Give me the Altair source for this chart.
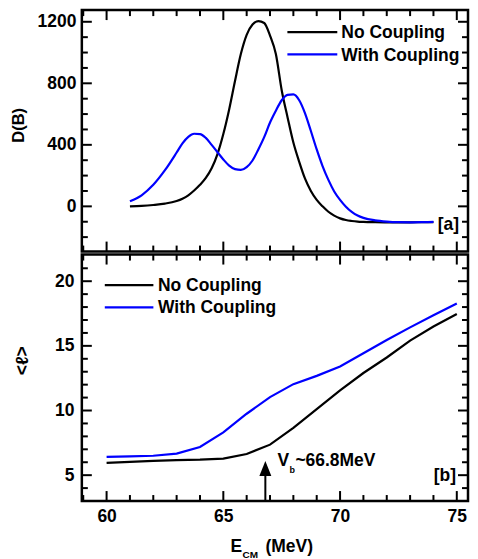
import altair as alt
import pandas as pd

FONT = "Liberation Sans"
SERIES = ["No Coupling", "With Coupling"]
COLORS = ["#000000", "#0000ff"]

# ---- panel [a]: D(B) ----
E_A = [61.0, 61.5, 62.0, 62.5, 63.0, 63.25, 63.5, 63.75, 64.0, 64.25, 64.5, 64.75,
       65.0, 65.25, 65.5, 65.75, 66.0, 66.25, 66.5, 66.75, 67.0, 67.25, 67.5, 67.75,
       68.0, 68.25, 68.5, 68.75, 69.0, 69.25, 69.5, 69.75, 70.0, 70.25, 70.5, 70.75,
       71.0, 71.5, 72.0, 72.5, 73.0, 73.5, 74.0]
DB_NO = [0, 3, 9, 18, 35, 50, 72, 103, 140, 185, 248, 340,
         470, 630, 815, 990, 1115, 1182, 1204, 1192, 1110, 990, 755, 580,
         415, 290, 180, 100, 42, 0, -35, -60, -78, -89, -95, -99,
         -101, -103, -104, -104, -104, -103, -102]
DB_WITH = [33, 72, 140, 235, 350, 410, 452, 472, 470, 445, 400, 352,
           305, 265, 242, 237, 255, 298, 370, 450, 545, 622, 690, 725,
           728, 690, 605, 490, 370, 262, 172, 97, 42, -2, -36, -60,
           -75, -91, -99, -103, -104, -103, -101]

# ---- panel [b]: <l> ----
E_B = [60, 61, 62, 63, 64, 65, 66, 67, 68, 69, 70, 71, 72, 73, 74, 75]
L_NO = [5.95, 6.03, 6.1, 6.16, 6.2, 6.28, 6.64, 7.36, 8.65, 10.1, 11.55, 12.9,
        14.1, 15.4, 16.5, 17.46]
L_WITH = [6.41, 6.46, 6.5, 6.67, 7.18, 8.31, 9.75, 11.04, 12.04, 12.68, 13.4,
          14.43, 15.45, 16.43, 17.36, 18.28]

VB = 66.8
VB_TEXT = ["V", "b", "~66.8MeV"]
PANEL_TAGS = ["[a]", "[b]"]
XTITLE = ["E", "CM", "(MeV)"]

X_DOMAIN = [58.94, 75.48]
X_MAJOR = [60, 65, 70, 75]
X_MINOR = [59, 61, 62, 63, 64, 66, 67, 68, 69, 71, 72, 73, 74]
YA_DOMAIN = [-294, 1276]
YA_MAJOR = [0, 400, 800, 1200]
YA_MINOR = [-200, -100, 100, 200, 300, 500, 600, 700, 900, 1000, 1100]
YB_DOMAIN = [3.0, 22.06]
YB_MAJOR = [5, 10, 15, 20]
YB_MINOR = [4, 6, 7, 8, 9, 11, 12, 13, 14, 16, 17, 18, 19, 21]

W = 387
HA = 242
HB = 247
FS = 17.5

xs = alt.Scale(domain=X_DOMAIN, nice=False, zero=False)
ysa = alt.Scale(domain=YA_DOMAIN, nice=False, zero=False)
ysb = alt.Scale(domain=YB_DOMAIN, nice=False, zero=False)
cscale = alt.Scale(domain=SERIES, range=COLORS)

AX_XA = None
AX_YA = alt.Axis(values=YA_MAJOR, format="d", ticks=False, domain=False, grid=False,
                 labelPadding=6, title="D(B)", titleAngle=-90, titleX=-63, titleY=115,
                 titleAlign="center", titleBaseline="middle", titleFontSize=16.5)
AX_XB = alt.Axis(values=X_MAJOR, format="d", ticks=False, domain=False, grid=False,
                 labelPadding=7, title=None)
AX_YB = alt.Axis(values=YB_MAJOR, format="d", ticks=False, domain=False, grid=False,
                 labelPadding=8, title="<ℓ>", titleAngle=-90, titleX=-59, titleY=106,
                 titleAlign="center", titleBaseline="middle")


def tick_layers(xvals, yvals, length, ys, H, axx, axy):
    out = []
    dx = pd.DataFrame({"t": xvals})
    dy = pd.DataFrame({"t": yvals})
    bx = alt.Chart(dx).mark_rule(color="black", strokeWidth=2)
    X = alt.X("t:Q", scale=xs, axis=axx)
    out.append(bx.encode(x=X, y=alt.value(0), y2=alt.value(length)))
    out.append(bx.encode(x=X, y=alt.value(H), y2=alt.value(H - length)))
    by = alt.Chart(dy).mark_rule(color="black", strokeWidth=2)
    Y = alt.Y("t:Q", scale=ys, axis=axy)
    out.append(by.encode(y=Y, x=alt.value(0), x2=alt.value(length)))
    out.append(by.encode(y=Y, x=alt.value(W), x2=alt.value(W - length)))
    return out


def legend_layers(x0, x1, yline, xtext, ytext):
    out = []
    for i, name in enumerate(SERIES):
        d = pd.DataFrame({"s": [name]})
        out.append(alt.Chart(d).mark_rule(color=COLORS[i], strokeWidth=2.2).encode(
            x=alt.value(x0), x2=alt.value(x1), y=alt.value(yline[i])))
        out.append(alt.Chart(d).mark_text(align="left", baseline="alphabetic", font=FONT,
                                          fontSize=FS, fontWeight="bold", color="black").encode(
            x=alt.value(xtext), y=alt.value(ytext[i]), text="s:N"))
    return out


def text_layer(txt, x, y, size=FS, align="left"):
    d = pd.DataFrame({"label": [txt]})
    return alt.Chart(d).mark_text(align=align, baseline="alphabetic", font=FONT,
                                  fontSize=size, fontWeight="bold", color="black").encode(
        x=alt.value(x), y=alt.value(y), text="label:N")


# ---------- top panel ----------
df_a = pd.DataFrame({
    "E": E_A + E_A,
    "v": DB_NO + DB_WITH,
    "s": [SERIES[0]] * len(E_A) + [SERIES[1]] * len(E_A),
})
lines_a = alt.Chart(df_a).mark_line(strokeWidth=2.2, interpolate="monotone").encode(
    x=alt.X("E:Q", scale=xs, axis=AX_XA),
    y=alt.Y("v:Q", scale=ysa, axis=AX_YA),
    color=alt.Color("s:N", scale=cscale, legend=None),
)
top_layers = [lines_a]
top_layers += tick_layers(X_MAJOR, YA_MAJOR, 10, ysa, HA, AX_XA, AX_YA)
top_layers += tick_layers(X_MINOR, YA_MINOR, 6, ysa, HA, AX_XA, AX_YA)
top_layers += legend_layers(206, 256, [22, 44.3], 260, [28.3, 51])
top_layers.append(text_layer(PANEL_TAGS[0], 378, 220.6, align="right"))
top = alt.layer(*top_layers).properties(width=W, height=HA)

# ---------- bottom panel ----------
df_b = pd.DataFrame({
    "E": E_B + E_B,
    "v": L_NO + L_WITH,
    "s": [SERIES[0]] * len(E_B) + [SERIES[1]] * len(E_B),
})
lines_b = alt.Chart(df_b).mark_line(strokeWidth=2.2).encode(
    x=alt.X("E:Q", scale=xs, axis=AX_XB),
    y=alt.Y("v:Q", scale=ysb, axis=AX_YB),
    color=alt.Color("s:N", scale=cscale, legend=None),
)
vb_df = pd.DataFrame({"E": [VB]})
arrow_shaft = alt.Chart(vb_df).mark_rule(color="black", strokeWidth=2).encode(
    x=alt.X("E:Q", scale=xs, axis=AX_XB), y=alt.value(218), y2=alt.value(HB))
arrow_head = alt.Chart(vb_df).mark_point(
    shape="M0,-1L-0.8,1L0.8,1Z", size=225, filled=True, color="black", opacity=1,
    strokeWidth=0).encode(x=alt.X("E:Q", scale=xs, axis=AX_XB), y=alt.value(214.5))

bot_layers = [lines_b]
bot_layers += tick_layers(X_MAJOR, YB_MAJOR, 10, ysb, HB, AX_XB, AX_YB)
bot_layers += tick_layers(X_MINOR, YB_MINOR, 6, ysb, HB, AX_XB, AX_YB)
bot_layers += legend_layers(23, 71.7, [30.7, 53], 76.3, [36.3, 59])
bot_layers += [arrow_shaft, arrow_head]
bot_layers.append(text_layer(VB_TEXT[0], 196, 212))
bot_layers.append(text_layer(VB_TEXT[1], 208, 219, size=9))
bot_layers.append(text_layer(VB_TEXT[2], 214, 212))
bot_layers.append(text_layer(PANEL_TAGS[1], 375, 227, align="right"))
bot_layers.append(text_layer(XTITLE[0], 149, 298))
bot_layers.append(text_layer(XTITLE[1], 161, 304, size=10))
bot_layers.append(text_layer(XTITLE[2], 184, 298))
bottom = alt.layer(*bot_layers).properties(width=W, height=HB)

chart = alt.vconcat(top, bottom, spacing=-5).configure_view(
    stroke="black", strokeWidth=2.5
).configure_axis(
    labelFont=FONT, labelFontSize=FS, labelFontWeight="bold", labelColor="black",
    titleFont=FONT, titleFontSize=FS, titleFontWeight="bold", titleColor="black",
).properties(
    padding={"left": 1, "top": -1.5, "right": -1, "bottom": 0}
)

chart.save("out.html", embed_options={"renderer": "svg", "actions": False})
